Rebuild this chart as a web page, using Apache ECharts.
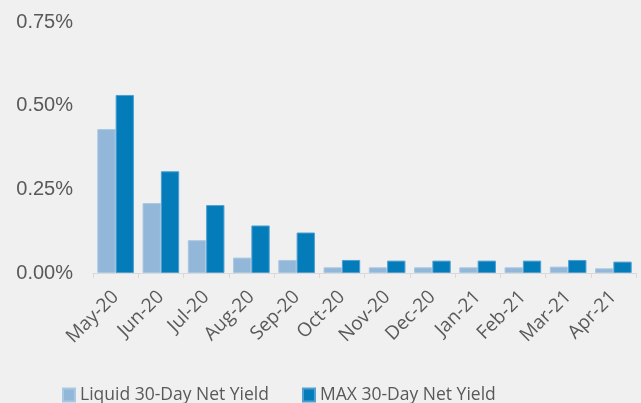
<!DOCTYPE html>
<html>
<head>
<meta charset="utf-8">
<script src="https://cdn.jsdelivr.net/npm/echarts@6/dist/echarts.min.js"></script>
<style>
html,body{margin:0;padding:0;background:#F0F0F0;}
#chart{width:641px;height:403px;}
</style>
</head>
<body>
<div id="chart"></div>
<script>
var categories = ['May-20','Jun-20','Jul-20','Aug-20','Sep-20','Oct-20','Nov-20','Dec-20','Jan-21','Feb-21','Mar-21','Apr-21'];
var liquidYield = [0.430,0.209,0.098,0.046,0.039,0.017,0.017,0.017,0.017,0.017,0.019,0.014];
var maxYield = [0.532,0.304,0.203,0.142,0.121,0.039,0.037,0.037,0.037,0.037,0.039,0.034];
var seriesNames = ['Liquid 30-Day Net Yield','MAX 30-Day Net Yield'];
var yTicks = [0, 0.25, 0.5, 0.75];

var chart = echarts.init(document.getElementById('chart'), null, {renderer:'canvas'});
chart.setOption({
  backgroundColor:'#F0F0F0',
  animation:false,
  grid:{left:93,right:5,top:22,bottom:130,containLabel:false},
  legend:{
    data:seriesNames,
    bottom:-1,
    left:62,
    padding:0,
    itemWidth:12,
    itemHeight:13,
    itemGap:33,
    icon:'rect',
    textStyle:{fontFamily:'Open Sans',fontSize:17.5,color:'#595959'}
  },
  xAxis:{
    type:'category',
    data:categories,
    axisLine:{lineStyle:{color:'#D9D9D9',width:1}},
    axisTick:{show:true,alignWithLabel:false,length:5,lineStyle:{color:'#D9D9D9'}},
    axisLabel:{rotate:45,margin:21,fontFamily:'Open Sans',fontSize:19,color:'#595959',interval:0}
  },
  yAxis:{
    type:'value',
    min:0,max:0.75,interval:0.25,
    splitLine:{show:false},
    axisLine:{show:false},
    axisTick:{show:false},
    axisLabel:{margin:20,fontFamily:'Liberation Sans',fontSize:20,color:'#595959',
      formatter:function(v){return v.toFixed(2)+'%';}}
  },
  series:[
    {name:seriesNames[0],type:'bar',data:liquidYield,barGap:'0%',barCategoryGap:'19%',
     itemStyle:{color:'#93B7D9',borderColor:'#A9C8E3',borderWidth:1}},
    {name:seriesNames[1],type:'bar',data:maxYield,barGap:'0%',barCategoryGap:'19%',
     itemStyle:{color:'#057CBA',borderColor:'#4FA0D2',borderWidth:1}}
  ]
});
</script>
</body>
</html>
